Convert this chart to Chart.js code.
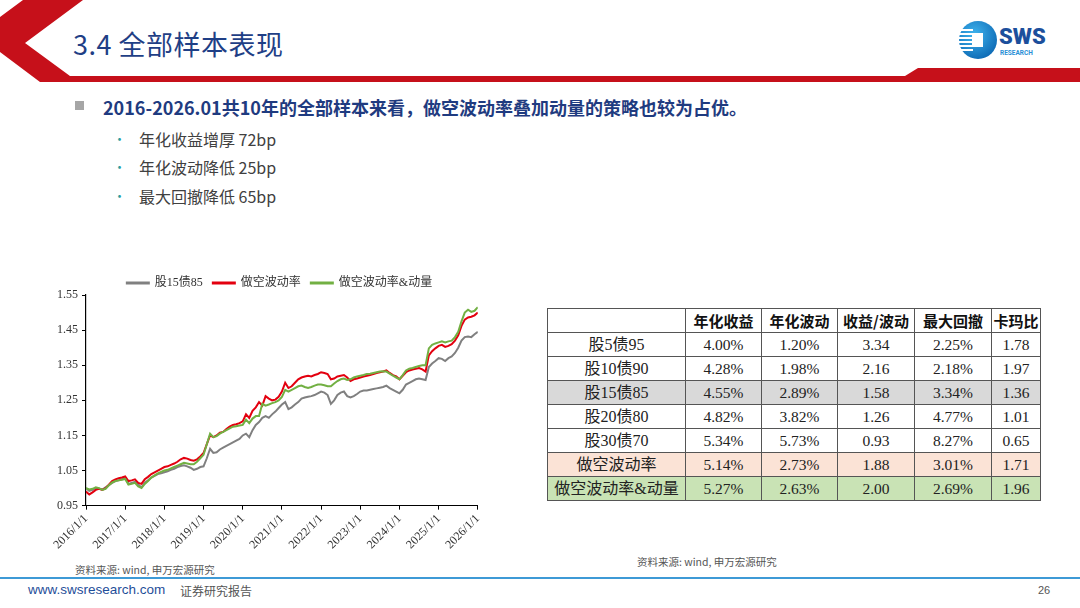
<!DOCTYPE html>
<html>
<head>
<meta charset="utf-8">
<script src="https://cdn.jsdelivr.net/npm/chart.js@4.4.1/dist/chart.umd.min.js"></script>
<style>
  html, body { margin: 0; padding: 0; background: #fff; }
  body { width: 1080px; height: 608px; position: relative; overflow: hidden;
         font-family: "Noto Sans CJK SC", "Noto Sans", sans-serif; }
  .abs { position: absolute; }
  #title { left: 73px; top: 24px; font-size: 27px; color: #1f3f86; letter-spacing: 0.5px; white-space: nowrap; }
  #lead { left: 103px; top: 94px; font-size: 18px; font-weight: bold; color: #1f3b80; white-space: nowrap; }
  #leadbox { left: 75px; top: 101px; width: 9px; height: 9px; background: #a6a6a6; }
  .sub { left: 139px; font-size: 16px; color: #404040; white-space: nowrap; }
  .dot { left: 113px; font-size: 13px; color: #2a9d9f; }
  .src { font-size: 10.5px; color: #555; white-space: nowrap; }
  #chartbox { left: 53px; top: 244px; width: 437px; height: 310px; }
  #tbl { left: 547px; top: 308px; border-collapse: collapse; }
  #tbl td, #tbl th { border: 1px solid #555; height: 23px; line-height: 20px; padding: 0; text-align: center;
       font-family: "Liberation Serif", "Noto Sans CJK SC", serif; font-size: 15.5px; color: #222; }
  #tbl th { font-family: "Noto Sans CJK SC", sans-serif; font-weight: bold; font-size: 15px; color: #111; }
  #tbl td.nm { font-size: 16px; }
  #footline { left: 0; top: 577px; width: 1080px; height: 2px; background: #3d9ad6; }
</style>
</head>
<body>
<svg class="abs" style="left:0;top:0" width="1080" height="90">
  <polygon fill="#c6101a" points="23,0 83,0 25,43 70,76 905,76 918,68 1080,68 1080,82 40,82 0,52 0,17"/>
  <!-- logo -->
  <defs>
    <radialGradient id="lg" cx="0.4" cy="0.35" r="0.7">
      <stop offset="0" stop-color="#3fb4ee"/>
      <stop offset="1" stop-color="#0d69b4"/>
    </radialGradient>
  </defs>
  <circle cx="978" cy="40" r="19" fill="url(#lg)"/>
  <rect x="959" y="29" width="14" height="2" fill="#fff"/>
  <rect x="959" y="33" width="14" height="2" fill="#fff"/>
  <rect x="959" y="37" width="14" height="2" fill="#fff"/>
  <rect x="959" y="41" width="14" height="2" fill="#fff"/>
  <rect x="959" y="45" width="14" height="2" fill="#fff"/>
  <rect x="959" y="49" width="14" height="2" fill="#fff"/>
  <rect x="972" y="33" width="11" height="14" fill="#fff"/>
  <text x="999" y="44" font-family="Roboto, 'Noto Sans', sans-serif" font-weight="900" font-size="22" fill="#1c4f9c">SWS</text>
  <text x="1000" y="55" font-family="Roboto, 'Noto Sans', sans-serif" font-weight="700" font-size="6.5" fill="#2a8fd6">RESEARCH</text>
</svg>

<div id="title" class="abs">3.4 全部样本表现</div>
<div id="leadbox" class="abs"></div>
<div id="lead" class="abs">2016-2026.01共10年的全部样本来看，做空波动率叠加动量的策略也较为占优。</div>
<div class="abs dot" style="top:129px">•</div>
<div class="abs sub" style="top:127px">年化收益增厚 72bp</div>
<div class="abs dot" style="top:157px">•</div>
<div class="abs sub" style="top:155px">年化波动降低 25bp</div>
<div class="abs dot" style="top:186px">•</div>
<div class="abs sub" style="top:184px">最大回撤降低 65bp</div>

<div id="chartbox" class="abs"><canvas id="chart"></canvas></div>

<table id="tbl" class="abs"></table>

<div class="abs src" style="left:75px;top:562px">资料来源: wind, 申万宏源研究</div>
<div class="abs src" style="left:637px;top:554px">资料来源: wind, 申万宏源研究</div>
<div id="footline" class="abs"></div>
<div class="abs" style="left:28px;top:582px;font-size:13.5px;color:#1f4e99;font-family:'Liberation Sans',Arial,sans-serif">www.swsresearch.com</div>
<div class="abs" style="left:180px;top:582px;font-size:12px;color:#555">证券研究报告</div>
<div class="abs" style="left:1038px;top:584px;font-size:11px;color:#555;font-family:'Liberation Sans',Arial,sans-serif">26</div>

<script>
// 图例名称
const seriesNames = ['股15债85', '做空波动率', '做空波动率&动量'];
const seriesColors = ['#808080', '#e3000f', '#72b043'];

// 月度净值 2016/1 - 2026/1
const bench = [
  1.000, 0.992, 0.995, 1.000, 0.998, 0.996, 1.002, 1.008, 1.015, 1.020, 1.022, 1.025,
  1.028, 1.012, 1.015, 1.018, 1.010, 1.002, 1.015, 1.022, 1.030, 1.035, 1.040, 1.042,
  1.045, 1.048, 1.052, 1.055, 1.060, 1.063, 1.065, 1.062, 1.058, 1.052, 1.055, 1.060,
  1.062, 1.085, 1.112, 1.100, 1.102, 1.110, 1.115, 1.120, 1.125, 1.130, 1.135, 1.140,
  1.150, 1.155, 1.145, 1.165, 1.180, 1.188, 1.200, 1.205, 1.200, 1.210, 1.218, 1.228,
  1.238, 1.245, 1.225, 1.230, 1.238, 1.245, 1.255, 1.258, 1.260, 1.262, 1.265, 1.270,
  1.275, 1.272, 1.265, 1.240, 1.250, 1.265, 1.272, 1.275, 1.262, 1.258, 1.262, 1.268,
  1.275, 1.278, 1.278, 1.280, 1.282, 1.284, 1.286, 1.288, 1.292, 1.285, 1.280, 1.275,
  1.270, 1.280, 1.295, 1.300, 1.305, 1.310, 1.312, 1.310, 1.308, 1.345, 1.355, 1.362,
  1.370, 1.368, 1.362, 1.370, 1.375, 1.385, 1.400, 1.420, 1.430, 1.432, 1.430, 1.438,
  1.445
];
const shortVol = [
  0.990, 0.982, 0.988, 0.995, 0.998, 0.995, 1.000, 1.010, 1.020, 1.025, 1.028, 1.030,
  1.033, 1.020, 1.022, 1.025, 1.015, 1.012, 1.025, 1.032, 1.040, 1.045, 1.050, 1.055,
  1.060, 1.062, 1.066, 1.070, 1.075, 1.082, 1.086, 1.084, 1.080, 1.078, 1.082, 1.090,
  1.100, 1.125, 1.150, 1.145, 1.150, 1.158, 1.160, 1.168, 1.175, 1.180, 1.182, 1.185,
  1.190, 1.210, 1.200, 1.220, 1.230, 1.245, 1.235, 1.262, 1.255, 1.250, 1.252, 1.260,
  1.275, 1.300, 1.285, 1.290, 1.300, 1.310, 1.315, 1.318, 1.320, 1.318, 1.322, 1.325,
  1.330, 1.328, 1.325, 1.310, 1.312, 1.318, 1.320, 1.322, 1.315, 1.305, 1.310, 1.312,
  1.315, 1.318, 1.320, 1.322, 1.325, 1.328, 1.330, 1.332, 1.335, 1.328, 1.322, 1.318,
  1.310, 1.320, 1.330, 1.335, 1.338, 1.340, 1.342, 1.338, 1.332, 1.378, 1.390, 1.398,
  1.405, 1.408, 1.402, 1.405, 1.410, 1.420, 1.435, 1.462, 1.480, 1.486, 1.488, 1.492,
  1.500
];
const shortVolMom = [
  1.000, 0.996, 0.998, 1.002, 1.000, 0.995, 0.998, 1.008, 1.016, 1.020, 1.022, 1.024,
  1.026, 1.010, 1.012, 1.015, 1.005, 1.000, 1.012, 1.020, 1.030, 1.036, 1.042, 1.046,
  1.050, 1.052, 1.056, 1.060, 1.064, 1.068, 1.072, 1.070, 1.068, 1.068, 1.075, 1.085,
  1.095, 1.125, 1.155, 1.145, 1.148, 1.155, 1.160, 1.165, 1.170, 1.175, 1.176, 1.178,
  1.180, 1.195, 1.185, 1.198, 1.205, 1.205, 1.240, 1.235, 1.238, 1.242, 1.245, 1.250,
  1.260, 1.280, 1.275, 1.280, 1.285, 1.290, 1.292, 1.288, 1.285, 1.288, 1.292, 1.295,
  1.295, 1.293, 1.290, 1.290, 1.298, 1.305, 1.310, 1.312, 1.308, 1.310, 1.315, 1.318,
  1.320, 1.322, 1.325, 1.326, 1.328, 1.330, 1.332, 1.333, 1.332, 1.326, 1.320, 1.315,
  1.310, 1.322, 1.335, 1.340, 1.342, 1.345, 1.348, 1.350, 1.350, 1.398, 1.408, 1.412,
  1.415, 1.418, 1.415, 1.418, 1.420, 1.430, 1.445, 1.475, 1.500, 1.508, 1.502, 1.505,
  1.515
];
const yTicks = [0.95, 1.05, 1.15, 1.25, 1.35, 1.45, 1.55];
const startYear = 2016;

// 表格数据
const rowNames = ['股5债95', '股10债90', '股15债85', '股20债80', '股30债70', '做空波动率', '做空波动率&动量'];
const headers = ['', '年化收益', '年化波动', '收益/波动', '最大回撤', '卡玛比'];
const annRet = ['4.00%', '4.28%', '4.55%', '4.82%', '5.34%', '5.14%', '5.27%'];
const annVol = ['1.20%', '1.98%', '2.89%', '3.82%', '5.73%', '2.73%', '2.63%'];
const retVol = ['3.34', '2.16', '1.58', '1.26', '0.93', '1.88', '2.00'];
const maxDD = ['2.25%', '2.18%', '3.34%', '4.77%', '8.27%', '3.01%', '2.69%'];
const calmar = ['1.78', '1.97', '1.36', '1.01', '0.65', '1.71', '1.96'];
const rowBg = ['', '', '#d9d9d9', '', '', '#fbe3d6', '#c9e3b5'];
const colW = [137, 75, 75, 76, 76, 48];

// 图例：收紧间距、整体右移，与原图对齐
const legendTweak = {
  id: 'legendTweak',
  beforeInit(chart) {
    const fit = chart.legend.fit;
    chart.legend.fit = function() {
      fit.bind(chart.legend)();
      this.height -= 4;
    };
  },
  afterLayout(chart) {
    chart.legend.left += 11;
    chart.legend.right += 11;
  }
};

document.addEventListener('DOMContentLoaded', function() {
  // 表格
  const tbl = document.getElementById('tbl');
  let html = '<tr>' + headers.map((h, i) => `<th style="width:${colW[i]}px">${h}</th>`).join('') + '</tr>';
  rowNames.forEach((n, i) => {
    const bg = rowBg[i] ? ` style="background:${rowBg[i]}"` : '';
    html += `<tr${bg}><td class="nm">${n}</td><td>${annRet[i]}</td><td>${annVol[i]}</td>` +
            `<td>${retVol[i]}</td><td>${maxDD[i]}</td><td>${calmar[i]}</td></tr>`;
  });
  tbl.innerHTML = html;

  // 折线图
  const series = [bench, shortVol, shortVolMom];
  const ctx = document.getElementById('chart').getContext('2d');
  new Chart(ctx, {
    type: 'line',
    data: {
      datasets: series.map((s, k) => ({
        label: seriesNames[k],
        data: s.map((v, i) => ({ x: i, y: v })),
        borderColor: seriesColors[k],
        backgroundColor: seriesColors[k],
        borderWidth: 2,
        pointRadius: 0,
        tension: 0,
        order: 3 - k
      }))
    },
    plugins: [legendTweak],
    options: {
      responsive: true,
      maintainAspectRatio: false,
      animation: false,
      layout: { padding: { top: 23, right: 6, left: 0, bottom: 0 } },
      plugins: {
        tooltip: { enabled: false },
        legend: {
          position: 'top',
          labels: {
            boxWidth: 22,
            boxHeight: 1,
            padding: 10,
            color: '#333',
            font: { family: "'Liberation Serif', 'Noto Sans CJK SC'", size: 12 },
            sort: (a, b) => a.datasetIndex - b.datasetIndex
          }
        }
      },
      scales: {
        x: {
          type: 'linear',
          min: 0,
          max: 120,
          grid: { display: true, drawOnChartArea: false, drawTicks: true, tickLength: 4, color: '#000' },
          border: { display: true, color: '#000', width: 1 },
          ticks: {
            stepSize: 12,
            minRotation: 45,
            maxRotation: 45,
            padding: 2,
            color: '#333',
            font: { family: "'Liberation Serif'", size: 12 },
            callback: v => (startYear + v / 12) + '/1/1'
          }
        },
        y: {
          min: yTicks[0],
          max: yTicks[yTicks.length - 1],
          afterBuildTicks: axis => { axis.ticks = yTicks.map(v => ({ value: v })); },
          grid: { display: true, drawOnChartArea: false, drawTicks: true, tickLength: 4, color: '#000' },
          border: { display: true, color: '#000', width: 1.2 },
          ticks: {
            padding: 4,
            color: '#333',
            font: { family: "'Liberation Serif'", size: 12 },
            callback: v => v.toFixed(2)
          }
        }
      }
    }
  });
});
</script>
</body>
</html>
